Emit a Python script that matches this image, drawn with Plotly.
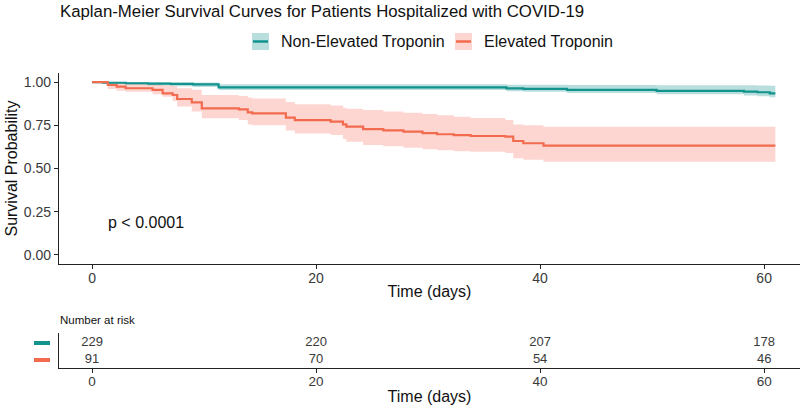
import plotly.graph_objects as go

# Kaplan-Meier estimates
# Non-Elevated Troponin
t_ne = [0, 1, 3, 5, 7, 9, 11.3, 37, 38.5, 42.4, 50.4, 58.2, 59.4, 60.5, 61]
s_ne = [1.0, 0.996, 0.993, 0.991, 0.989, 0.986, 0.969, 0.963, 0.960, 0.955, 0.949, 0.945, 0.941, 0.935, 0.935]
up_ne = [1.0, 1.0, 1.0, 0.999, 0.998, 0.997, 0.987, 0.985, 0.984, 0.983, 0.982, 0.981, 0.980, 0.978, 0.978]
lo_ne = [1.0, 0.989, 0.984, 0.980, 0.976, 0.972, 0.954, 0.947, 0.944, 0.936, 0.929, 0.922, 0.918, 0.912, 0.912]

# Elevated Troponin
t_e = [0, 1.4, 2.2, 3.0, 5.4, 6.3, 7.2, 7.6, 8.9, 9.8, 13.1, 13.9, 14.3, 17.3, 18.1, 21.3, 22.4,
       22.7, 24.2, 26.0, 27.8, 29.5, 30.8, 32.3, 33.8, 36.9, 37.6, 38.5, 40.3, 61]
s_e = [1.0, 0.983, 0.973, 0.964, 0.955, 0.935, 0.925, 0.902, 0.883, 0.848, 0.842, 0.825, 0.819,
       0.794, 0.780, 0.771, 0.755, 0.742, 0.728, 0.720, 0.713, 0.705, 0.698, 0.693, 0.688, 0.684,
       0.659, 0.646, 0.632, 0.632]
up_e = [1.0, 1.0, 1.0, 0.995, 0.990, 0.980, 0.975, 0.964, 0.955, 0.925, 0.920, 0.910, 0.905,
        0.885, 0.871, 0.865, 0.852, 0.845, 0.838, 0.830, 0.822, 0.815, 0.808, 0.800, 0.792, 0.780,
        0.755, 0.750, 0.742, 0.742]
lo_e = [1.0, 0.960, 0.950, 0.944, 0.930, 0.915, 0.890, 0.858, 0.830, 0.790, 0.780, 0.755, 0.750,
        0.720, 0.703, 0.694, 0.670, 0.655, 0.636, 0.628, 0.620, 0.612, 0.606, 0.600, 0.597, 0.590,
        0.559, 0.550, 0.539, 0.539]

# number at risk table
risk_times = [0, 20, 40, 60]
risk_ne = [229, 220, 207, 178]
risk_e = [91, 70, 54, 46]

groups = ['Non-Elevated Troponin', 'Elevated Troponin']
LINE_COLORS = ['#13938E', '#F26B4F']
FILL_COLORS = ['rgba(19,147,142,0.30)', 'rgba(250,120,105,0.30)']

W, H = 800, 411
FONT = 'Liberation Sans, Arial, sans-serif'
TXT = '#3a3a3a'


def px(x):
    # page pixel -> paper fraction
    return x / W


def py(y):
    return 1 - y / H


fig = go.Figure()

series = [(t_ne, s_ne, up_ne, lo_ne), (t_e, s_e, up_e, lo_e)]
for i, (t, s, up, lo) in enumerate(series):
    fig.add_trace(go.Scatter(x=t, y=up, mode='lines', line=dict(width=0, shape='hv'),
                             showlegend=False, hoverinfo='skip'))
    fig.add_trace(go.Scatter(x=t, y=lo, mode='lines', line=dict(width=0, shape='hv'),
                             fill='tonexty', fillcolor=FILL_COLORS[i],
                             showlegend=False, hoverinfo='skip'))
for i, (t, s, up, lo) in enumerate(series):
    fig.add_trace(go.Scatter(x=t, y=s, mode='lines', name=groups[i],
                             line=dict(color=LINE_COLORS[i], width=2.2, shape='hv'),
                             showlegend=False))

# risk table numbers
fig.add_trace(go.Scatter(x=risk_times, y=[2] * len(risk_times), mode='text',
                         text=[str(v) for v in risk_ne], textfont=dict(size=13, color=TXT),
                         xaxis='x2', yaxis='y2', showlegend=False, hoverinfo='skip'))
fig.add_trace(go.Scatter(x=risk_times, y=[1] * len(risk_times), mode='text',
                         text=[str(v) for v in risk_e], textfont=dict(size=13, color=TXT),
                         xaxis='x2', yaxis='y2', showlegend=False, hoverinfo='skip'))

x_dom = [px(59), 1.0]
x_rng = [-2.95, 63.2]
axis_common = dict(showgrid=False, zeroline=False, showline=True, linecolor='#222222',
                   linewidth=1.2, ticks='outside', ticklen=4, tickcolor='#222222',
                   automargin=False)

fig.update_layout(
    width=W, height=H,
    margin=dict(l=0, r=0, t=0, b=0),
    paper_bgcolor='white', plot_bgcolor='white',
    font=dict(family=FONT, color=TXT),
    showlegend=False,
    xaxis=dict(domain=x_dom, range=x_rng, tickvals=risk_times, ticklabelstandoff=-3,
               tickfont=dict(size=14, color=TXT),
               title=dict(text='Time (days)', font=dict(size=16, color='#111111'), standoff=1),
               anchor='y', **axis_common),
    yaxis=dict(domain=[py(263.6), py(73.4)], range=[-0.05, 1.05],
               tickvals=[0, 0.25, 0.5, 0.75, 1.0], tickformat='.2f',
               tickfont=dict(size=14, color=TXT),
               title=dict(text='Survival Probability', font=dict(size=16, color='#111111'), standoff=2),
               anchor='x', **axis_common),
    xaxis2=dict(domain=x_dom, range=x_rng, tickvals=risk_times, ticklabelstandoff=-3,
                tickfont=dict(size=13.5, color=TXT),
                title=dict(text='Time (days)', font=dict(size=16, color='#111111'), standoff=2),
                anchor='y2', **axis_common),
    yaxis2=dict(domain=[py(368), py(333)], range=[0.53, 2.59], showticklabels=False,
                showgrid=False, zeroline=False, showline=True, linecolor='#222222',
                linewidth=1.2, ticks='', anchor='x2', automargin=False),
)

annotations = [
    dict(text='Kaplan-Meier Survival Curves for Patients Hospitalized with COVID-19',
         x=px(58), y=py(12), xref='paper', yref='paper', xanchor='left', yanchor='middle',
         showarrow=False, font=dict(size=16.8, color='#111111')),
    dict(text='p < 0.0001', x=1.25, y=0.187, xref='x', yref='y', xanchor='left',
         yanchor='middle', showarrow=False, font=dict(size=16, color='#111111')),
    dict(text='Number at risk', x=px(58), y=py(320), xref='paper', yref='paper',
         xanchor='left', yanchor='middle', showarrow=False, font=dict(size=11.5, color='#111111')),
]

# manual legend: box with ribbon colour and line, then label
legend_pos = [(252, 279), (455, 482)]
shapes = []
for i, (bx, tx) in enumerate(legend_pos):
    shapes.append(dict(type='rect', xref='paper', yref='paper',
                       x0=px(bx), x1=px(bx + 17), y0=py(50), y1=py(33),
                       fillcolor=FILL_COLORS[i], line=dict(width=0)))
    shapes.append(dict(type='line', xref='paper', yref='paper',
                       x0=px(bx + 1), x1=px(bx + 16), y0=py(41.5), y1=py(41.5),
                       line=dict(color=LINE_COLORS[i], width=2.5)))
    annotations.append(dict(text=groups[i], x=px(tx), y=py(42), xref='paper', yref='paper',
                            xanchor='left', yanchor='middle', showarrow=False,
                            font=dict(size=16, color='#111111')))

# coloured row markers of the risk table
for i, row in enumerate([2, 1]):
    shapes.append(dict(type='line', xref='paper', yref='y2',
                       x0=px(34), x1=px(50), y0=row, y1=row,
                       line=dict(color=LINE_COLORS[i], width=4)))

fig.update_layout(annotations=annotations, shapes=shapes)

# drop the default 8px page margin so the figure fills the window exactly
fig.write_html("out.html", config={'displayModeBar': False},
               post_script="document.body.style.margin='0';")
